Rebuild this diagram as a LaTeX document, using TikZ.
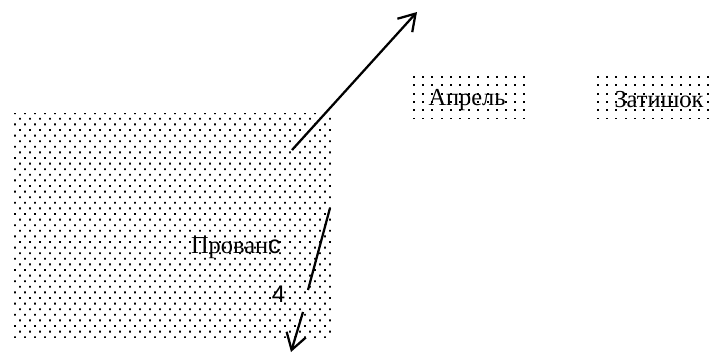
\documentclass[tikz,border=0pt]{standalone}
\usepackage{fontspec}
\setmainfont{Liberation Serif}
\newfontfamily\sansf{Liberation Sans}
\usetikzlibrary{patterns,arrows.meta}
\pgfdeclarepatternformonly{sparsedots}{\pgfqpoint{-1pt}{-1pt}}{\pgfqpoint{6pt}{5pt}}{\pgfqpoint{6.9pt}{6.3pt}}{%
  \pgfpathrectangle{\pgfqpoint{-0.75pt}{-0.75pt}}{\pgfqpoint{1.5pt}{1.5pt}}\pgfusepath{fill}}
\pgfdeclarepatternformonly{densedots}{\pgfqpoint{-1pt}{-1pt}}{\pgfqpoint{7pt}{8pt}}{\pgfqpoint{7.5pt}{8.4pt}}{%
  \pgfpathrectangle{\pgfqpoint{-0.7pt}{-0.7pt}}{\pgfqpoint{1.4pt}{1.4pt}}%
  \pgfpathrectangle{\pgfqpoint{3.05pt}{3.5pt}}{\pgfqpoint{1.4pt}{1.4pt}}\pgfusepath{fill}}
\begin{document}
\begin{tikzpicture}[x=0.75pt,y=-0.75pt,
  bigbox/.style={pattern=densedots,pattern color=black},
  smallbox/.style={pattern=sparsedots,pattern color=black},
  lbl/.style={font=\fontsize{18.3}{20}\selectfont,inner sep=0pt},
  conn/.style={line width=1.7pt,-{Straight Barb[length=12pt,width=15pt,line width=1.7pt]}}]
\useasboundingbox (0,0) rectangle (717,354);
% areas
\node[bigbox,minimum width=321*0.75pt,minimum height=224*0.75pt,inner sep=0pt] (prov) at (172.5,225) {};
\node[smallbox,minimum width=121*0.75pt,minimum height=45*0.75pt,inner sep=0pt] (apr) at (469.5,95.5) {};
\node[smallbox,minimum width=119*0.75pt,minimum height=45*0.75pt,inner sep=0pt] (zat) at (653.5,95.5) {};
% labels
\node[lbl] (provt) at (236,248) {Прован{\sansf\fontsize{19}{21}\selectfont с}};
\node[lbl,font=\sansf\fontsize{18}{20}\selectfont] (four) at (278.5,294) {4};
\node[lbl] (aprt) at (467,100) {Апрель};
\node[lbl] (zatt) at (659,100) {Затишок};
% connectors
\coordinate (a1s) at (292,150);
\coordinate (a1e) at (417,12);
\coordinate (a2s) at (330,208);
\coordinate (a2m) at (308,290);
\coordinate (a2n) at (303,312);
\coordinate (a2e) at (291,352);
\draw[conn] (a1s) -- (a1e);
\draw[line width=1.7pt] (a2s) -- (a2m);
\draw[conn] (a2n) -- (a2e);
\end{tikzpicture}
\end{document}
